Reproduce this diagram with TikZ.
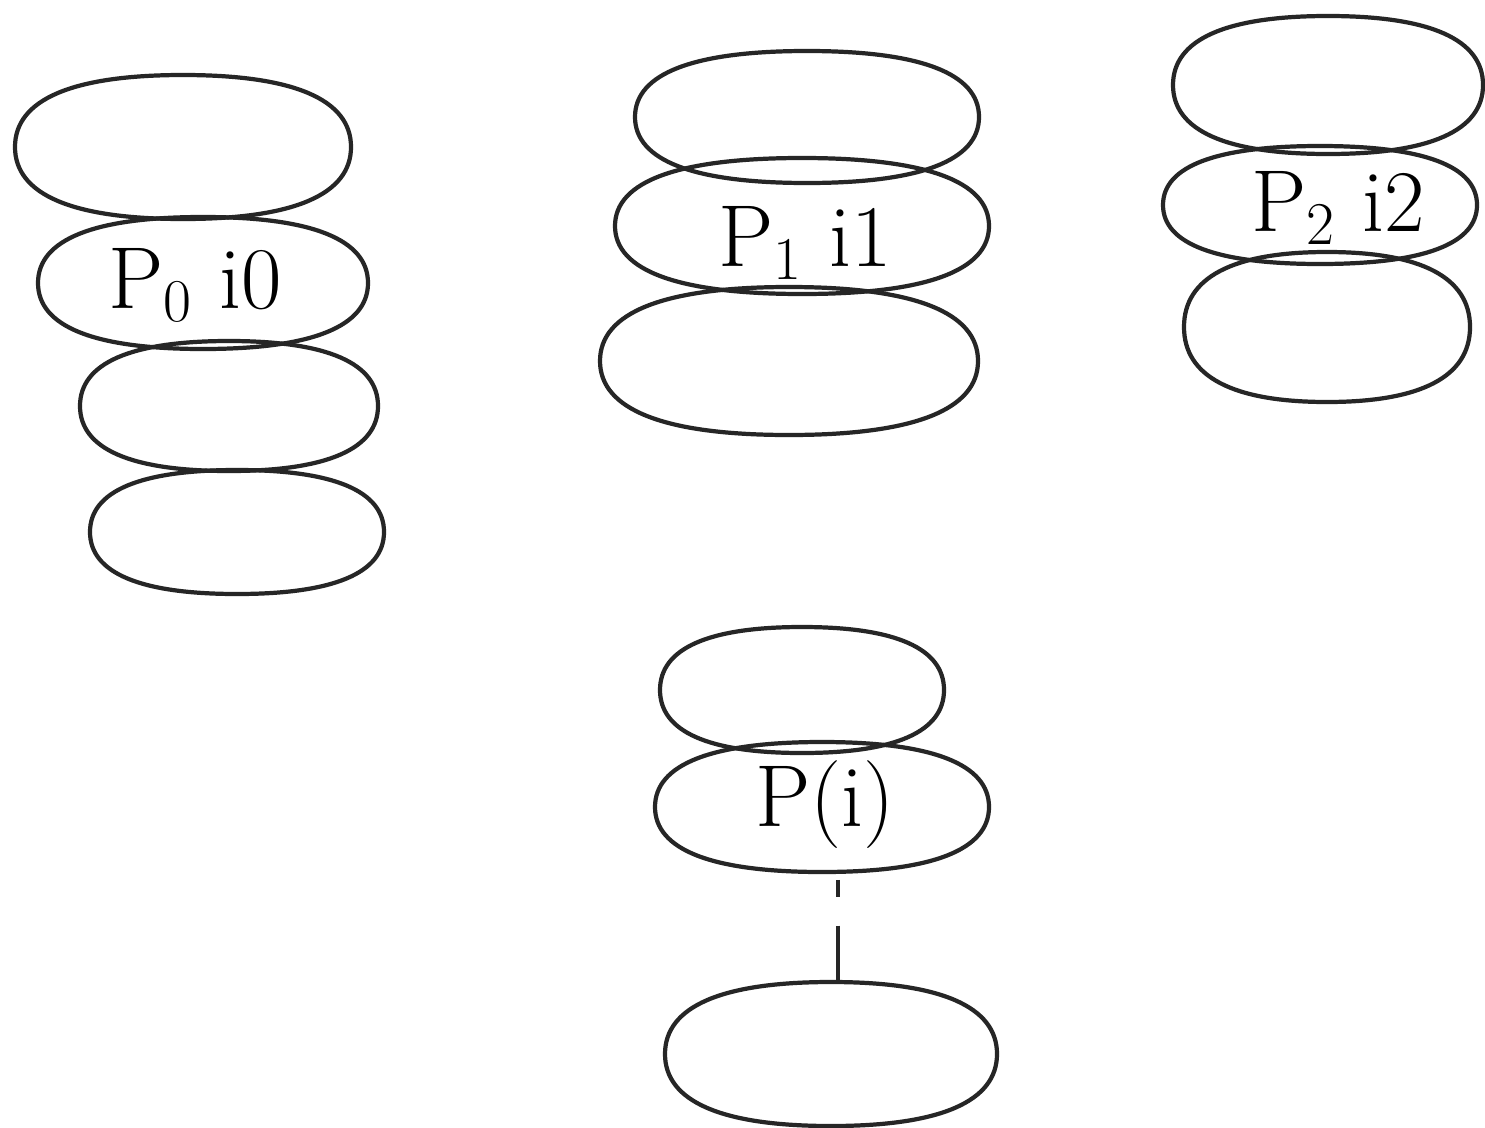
\documentclass[tikz,border=0pt]{standalone}
\usetikzlibrary{shapes.geometric}
% fuller-than-elliptic outline: centre (#1,#2), half axes #3 and #4
\def\blobk{0.66}
\newcommand\blobat[4]{%
  \draw[blobline] (#1+#3,#2)
    .. controls (#1+#3,#2+\blobk*#4) and (#1+\blobk*#3,#2+#4) .. (#1,#2+#4)
    .. controls (#1-\blobk*#3,#2+#4) and (#1-#3,#2+\blobk*#4) .. (#1-#3,#2)
    .. controls (#1-#3,#2-\blobk*#4) and (#1-\blobk*#3,#2-#4) .. (#1,#2-#4)
    .. controls (#1+\blobk*#3,#2-#4) and (#1+#3,#2-\blobk*#4) .. cycle;}
\begin{document}
\begin{tikzpicture}[x=0.01cm,y=-0.01cm,
  blobline/.style={draw=black!85, line width=1.2pt},
  blob/.style={ellipse, inner sep=0pt},
  lbl/.style={font=\fontsize{25}{30}\selectfont},
  link/.style={draw=black!85, line width=1.2pt, dash pattern=on 0pt off 2pt on 5pt off 8pt on 22pt}]
\useasboundingbox (0,0) rectangle (1485,1127);
\fill[white] (0,0) rectangle (1485,1127);

% left stack
\node[blob, minimum width=3.36cm, minimum height=1.44cm] (a1) at (183,147) {};
\node[blob, minimum width=3.30cm, minimum height=1.32cm] (a2) at (203,283) {};
\node[blob, minimum width=2.98cm, minimum height=1.32cm] (a3) at (229,406) {};
\node[blob, minimum width=2.94cm, minimum height=1.24cm] (a4) at (237,532) {};
\blobat{183}{147}{168}{72}
\blobat{203}{283}{165}{66}
\blobat{229}{406}{149}{65}
\blobat{237}{532}{147}{62}
\node[lbl] (la) at (195,285) {P$_0$ i0};

% middle stack
\node[blob, minimum width=3.44cm, minimum height=1.32cm] (b1) at (807,117) {};
\node[blob, minimum width=3.74cm, minimum height=1.38cm] (b2) at (802,226) {};
\node[blob, minimum width=3.78cm, minimum height=1.48cm] (b3) at (789,361) {};
\blobat{807}{117}{172}{66}
\blobat{802}{226}{187}{68}
\blobat{789}{361}{189}{74}
\node[lbl] (lb) at (805,243) {P$_1$ i1};

% right stack
\node[blob, minimum width=3.10cm, minimum height=1.38cm] (c1) at (1328,85) {};
\node[blob, minimum width=3.14cm, minimum height=1.20cm] (c2) at (1320,205) {};
\node[blob, minimum width=2.86cm, minimum height=1.50cm] (c3) at (1327,327) {};
\blobat{1328}{85}{155}{69}
\blobat{1320}{205}{157}{59}
\blobat{1327}{327}{143}{75}
\node[lbl] (lc) at (1338,208) {P$_2$ i2};

% bottom stack
\node[blob, minimum width=2.84cm, minimum height=1.28cm] (d1) at (802,690) {};
\node[blob, minimum width=3.34cm, minimum height=1.30cm] (d2) at (822,807) {};
\node[blob, minimum width=3.32cm, minimum height=1.44cm] (d3) at (831,1054) {};
\blobat{802}{690}{142}{63}
\blobat{822}{807}{167}{65}
\blobat{831}{1054}{166}{72}
\node[lbl] (ld) at (825,805) {P(i)};

\draw[link] (d2.south) ++(16,0) coordinate (s) -- (s |- d3.north);
\end{tikzpicture}
\end{document}
